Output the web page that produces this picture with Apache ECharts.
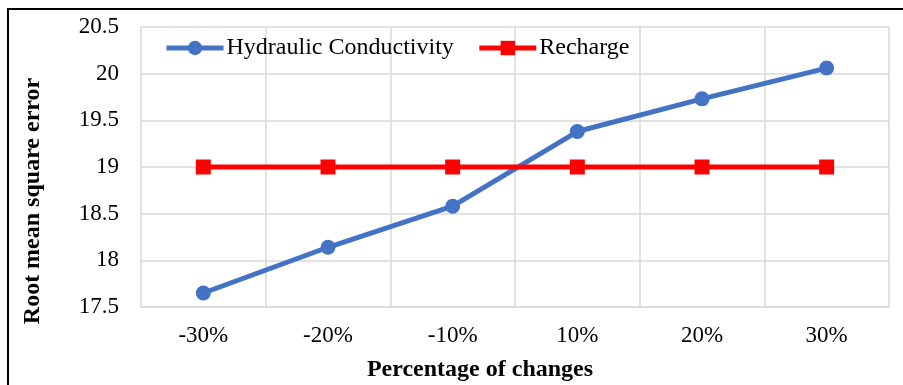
<!DOCTYPE html>
<html>
<head>
<meta charset="utf-8">
<script src="https://cdn.jsdelivr.net/npm/echarts@6/dist/echarts.min.js"></script>
<style>
html,body{margin:0;padding:0;background:#fff;}
#chart{width:903px;height:385px;}
</style>
</head>
<body>
<div id="chart"></div>
<script>
// Sensitivity of RMSE to parameter changes
const categories = ['-30%', '-20%', '-10%', '10%', '20%', '30%'];
const hydraulicConductivity = [17.65, 18.14, 18.58, 19.38, 19.73, 20.06];
const recharge = [19.0, 19.0, 19.0, 19.0, 19.0, 19.0];
const yTicks = { min: 17.5, max: 20.5, step: 0.5 };

const FONT = '"Liberation Serif", "Times New Roman", serif';
const chart = echarts.init(document.getElementById('chart'));
chart.setOption({
  animation: false,
  textStyle: { fontFamily: FONT },
  graphic: [{
    type: 'rect',
    shape: { x: 8, y: 9, width: 900, height: 390 },
    style: { fill: 'none', stroke: '#000', lineWidth: 2 },
    silent: true
  }],
  grid: { left: 141, right: 14, top: 27, bottom: 78, outerBoundsMode: 'none', containLabel: false },
  legend: {
    left: 159, top: 31, itemGap: 23, itemWidth: 57, itemHeight: 18,
    lineStyle: { width: 5 },
    textStyle: { fontFamily: FONT, fontSize: 24, color: '#000', padding: [0, 0, 0, -2] },
    data: ['Hydraulic Conductivity', 'Recharge']
  },
  xAxis: {
    type: 'category',
    data: categories,
    boundaryGap: true,
    name: 'Percentage of changes',
    nameLocation: 'middle',
    nameGap: 51,
    nameTextStyle: { fontFamily: FONT, fontSize: 24, fontWeight: 'bold', color: '#000', padding: [0, 70, 0, 0] },
    axisLine: { lineStyle: { color: '#d9d9d9', width: 1.5 } },
    axisTick: { show: false },
    axisLabel: { fontFamily: FONT, fontSize: 23, color: '#000', margin: 17 },
    splitLine: { show: true, lineStyle: { color: '#d9d9d9', width: 1.5 } }
  },
  yAxis: {
    type: 'value',
    min: yTicks.min, max: yTicks.max, interval: yTicks.step,
    name: 'Root mean square error',
    nameLocation: 'middle',
    nameGap: 96,
    nameTextStyle: { fontFamily: FONT, fontSize: 24, fontWeight: 'bold', color: '#000', padding: [0, 68, 0, 0] },
    axisLine: { show: false },
    axisTick: { show: false },
    axisLabel: { fontFamily: FONT, fontSize: 23, color: '#000', margin: 22 },
    splitLine: { lineStyle: { color: '#d9d9d9', width: 1.5 } }
  },
  series: [
    {
      name: 'Hydraulic Conductivity',
      type: 'line',
      data: hydraulicConductivity,
      symbol: 'circle', symbolSize: 15,
      lineStyle: { color: '#4472c4', width: 5 },
      itemStyle: { color: '#4472c4' }
    },
    {
      name: 'Recharge',
      type: 'line',
      data: recharge,
      symbol: 'rect', symbolSize: 15,
      lineStyle: { color: '#ff0000', width: 5 },
      itemStyle: { color: '#ff0000' }
    }
  ]
});
</script>
</body>
</html>
